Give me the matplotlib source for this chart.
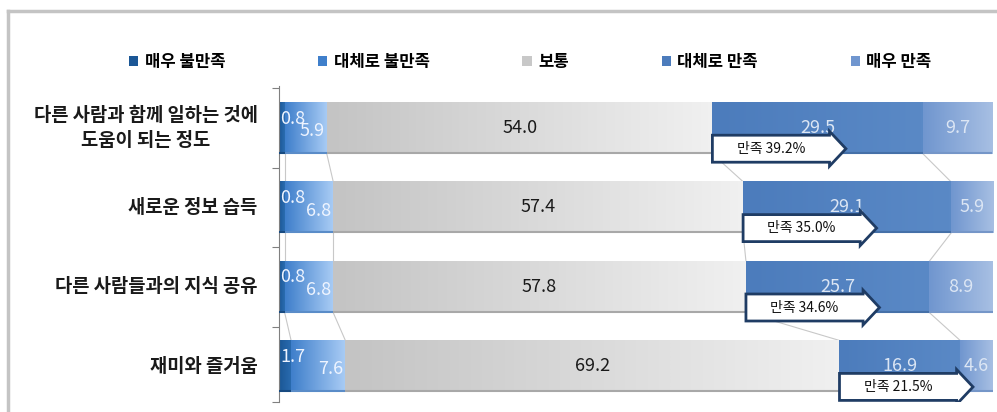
import numpy as np
import matplotlib
matplotlib.use('Agg')
import matplotlib.pyplot as plt
from matplotlib.colors import LinearSegmentedColormap
from matplotlib.patches import Polygon, Rectangle
from matplotlib.lines import Line2D

plt.rcParams['font.family'] = ['Noto Sans CJK KR', 'DejaVu Sans']

# data
categories = ['다른 사람과 함께 일하는 것에\n도움이 되는 정도', '새로운 정보 습득',
              '다른 사람들과의 지식 공유', '재미와 즐거움']
series = ['매우 불만족', '대체로 불만족', '보통', '대체로 만족', '매우 만족']
very_dis = [0.8, 0.8, 0.8, 1.7]
some_dis = [5.9, 6.8, 6.8, 7.6]
neutral = [54.0, 57.4, 57.8, 69.2]
some_sat = [29.5, 29.1, 25.7, 16.9]
very_sat = [9.7, 5.9, 8.9, 4.6]
satisfied = [39.2, 35.0, 34.6, 21.5]

vals = np.array([very_dis, some_dis, neutral, some_sat, very_sat])
cum = np.vstack([np.zeros(4), np.cumsum(vals, axis=0)])

# gradient colours (left -> right) for each series
grads = [('#1b5796', '#2a6cb0'),
         ('#3f7fcb', '#a9ccf5'),
         ('#c4c4c4', '#f0f0f0'),
         ('#4c7cbc', '#5a89c6'),
         ('#7096cf', '#a7bfe3')]
edge_cols = ['#174a80', '#5a8cc8', '#a8a8a8', '#4570a8', '#7596c8']

fig = plt.figure(figsize=(9.97, 4.12), dpi=100)
ax = fig.add_axes([0.2798, 0.0243, 0.7162, 0.7670])

bh = 0.65
for s in range(5):
    cmap = LinearSegmentedColormap.from_list('g%d' % s, grads[s])
    for i in range(4):
        x0, x1 = cum[s, i], cum[s + 1, i]
        ax.imshow(np.linspace(0, 1, 64).reshape(1, -1), cmap=cmap, aspect='auto',
                  extent=(x0, x1, i + bh / 2, i - bh / 2), zorder=2,
                  interpolation='bilinear')
        ax.plot([x0, x1], [i + bh / 2 - 0.01] * 2, color=edge_cols[s], lw=1.5, zorder=3,
                solid_capstyle='butt')

# series lines between bars
for i in range(3):
    for s in range(1, 5):
        ax.plot([cum[s, i], cum[s, i + 1]], [i + bh / 2, i + 1 - bh / 2],
                color='#c8c8c8', lw=0.8, zorder=1)

# value labels
lab_kw = dict(fontsize=13, va='center', zorder=6)
for i in range(4):
    ax.text(cum[0, i] + 0.2, i - 0.12, '%.1f' % very_dis[i], ha='left',
            color='#eef4ff', **lab_kw)
    ax.text(cum[2, i] - 0.3, i + 0.04, '%.1f' % some_dis[i], ha='right',
            color='#eef4ff', **lab_kw)
    ax.text((cum[2, i] + cum[3, i]) / 2, i, '%.1f' % neutral[i], ha='center',
            color='#1a1a1a', **lab_kw)
    ax.text((cum[3, i] + cum[4, i]) / 2, i, '%.1f' % some_sat[i], ha='center',
            color='#dce6f4', **lab_kw)
    ax.text((cum[4, i] + cum[5, i]) / 2, i, '%.1f' % very_sat[i], ha='center',
            color='#dce6f4', **lab_kw)

# "만족" arrow callouts
body_w, head_w = 16.4, 2.3
for i in range(4):
    x0 = cum[3, i]
    yc = i + 0.26
    hb, hh = 0.17, 0.22
    pts = [(x0, yc - hb), (x0 + body_w, yc - hb), (x0 + body_w, yc - hh),
           (x0 + body_w + head_w, yc), (x0 + body_w, yc + hh),
           (x0 + body_w, yc + hb), (x0, yc + hb)]
    ax.add_patch(Polygon(pts, closed=True, facecolor='white', edgecolor='#1f3c64',
                         lw=2.0, zorder=7, joinstyle='miter'))
    ax.text(x0 + body_w / 2, yc, '만족 %.1f%%' % satisfied[i], ha='center', va='center',
            fontsize=10, color='#111111', zorder=8)

ax.set_xlim(0, 100)
ax.set_ylim(3.45, -0.53)
for sp in ['top', 'right', 'bottom']:
    ax.spines[sp].set_visible(False)
ax.spines['left'].set_color('#808080')
ax.spines['left'].set_linewidth(0.8)
ax.set_xticks([])
ax.set_yticks([-0.5, 0.5, 1.5, 2.5, 3.45])
ax.set_yticklabels([])
ax.tick_params(axis='y', length=5, color='#808080', width=0.8)

for i, c in enumerate(categories):
    ax.text(-3.0, i, c, ha='right', va='center', multialignment='center',
            fontsize=13.5, fontweight='bold', color='#1a1a1a', linespacing=1.45,
            clip_on=False)

# legend
handles = [Rectangle((0, 0), 1, 1, facecolor=g[0], edgecolor='none') for g in grads]
handles[2] = Rectangle((0, 0), 1, 1, facecolor='#c8c8c8', edgecolor='none')
fig.legend(handles, series, loc='center', bbox_to_anchor=(0.532, 0.85), ncol=5,
           frameon=False, prop={'weight': 'bold', 'size': 12},
           handlelength=0.55, handleheight=0.55, handletextpad=0.4, columnspacing=5.55)

# outer frame (left and top)
fig.add_artist(Line2D([8 / 997, 8 / 997], [0, 1 - 11 / 412], transform=fig.transFigure,
                      color='#c4c4c4', lw=2.5))
fig.add_artist(Line2D([8 / 997, 1], [1 - 11 / 412, 1 - 11 / 412], transform=fig.transFigure,
                      color='#c4c4c4', lw=2.5))

fig.savefig('out.png', dpi=100)
